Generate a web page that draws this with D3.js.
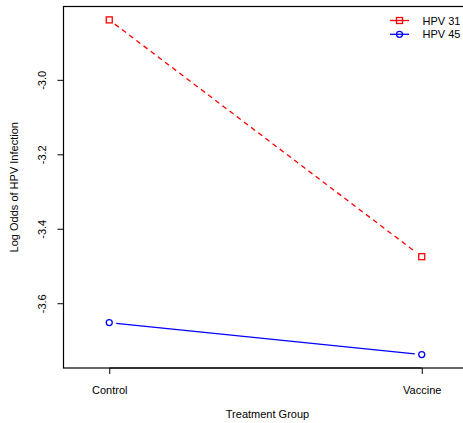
<!DOCTYPE html>
<html>
<head>
<meta charset="utf-8">
<script src="https://cdn.jsdelivr.net/npm/d3@7"></script>
<style>
  body { margin: 0; background: #fff; }
  text { font-family: "Liberation Sans", Arial, sans-serif; font-size: 11px; fill: #000; }
</style>
</head>
<body>
<div id="chart"></div>
<script>
// data
var groups = ["Control", "Vaccine"];
var hpv31 = [-2.839, -3.475];
var hpv45 = [-3.652, -3.738];
var seriesNames = ["HPV 31", "HPV 45"];
var yTicks = [-3.6, -3.4, -3.2, -3.0];

var width = 463, height = 423;
var plot = { left: 63, top: 6.5, right: 468, bottom: 368 };

var svg = d3.select("#chart")
    .append("svg")
    .attr("width", width)
    .attr("height", height);

// x: positions 1,2 with xlim 0.9..2.1 plus R's 4% padding
var x = d3.scaleLinear()
    .domain([0.852, 2.148])
    .range([plot.left, plot.right]);

var allVals = hpv31.concat(hpv45);
var yMin = d3.min(allVals), yMax = d3.max(allVals);
var pad = (yMax - yMin) * 0.04;
var y = d3.scaleLinear()
    .domain([yMin - pad, yMax + pad])
    .range([plot.bottom, plot.top]);

// box
svg.append("rect")
    .attr("x", plot.left + 0.5)
    .attr("y", plot.top)
    .attr("width", plot.right - plot.left)
    .attr("height", plot.bottom - plot.top)
    .style("fill", "none")
    .style("stroke", "#000")
    .style("stroke-width", 1.2);

// y axis (plain hyphen minus like R)
var yAxis = d3.axisLeft(y)
    .tickValues(yTicks)
    .tickSize(6)
    .tickFormat(function(d) { return d.toFixed(1); });
var yg = svg.append("g")
    .attr("transform", "translate(" + (plot.left + 0.5) + ",0)")
    .call(yAxis);
yg.select(".domain")
    .attr("d", "M0," + y(yTicks[0]) + "V" + y(yTicks[yTicks.length - 1]));
yg.selectAll("line").style("stroke", "#000");
yg.selectAll("text")
    .attr("x", 0)
    .attr("y", 0)
    .attr("dy", null)
    .style("font-size", "11px")
    .style("font-family", "Liberation Sans, Arial, sans-serif")
    .attr("text-anchor", "middle")
    .attr("transform", "translate(-18,0) rotate(-90)");

// x axis
var xAxis = d3.axisBottom(x)
    .tickValues([1, 2])
    .tickSize(6)
    .tickFormat(function(d) { return groups[d - 1]; });
var xg = svg.append("g")
    .attr("transform", "translate(0," + plot.bottom + ")")
    .call(xAxis);
xg.select(".domain").attr("d", "M" + x(1) + ",0H" + x(2));
xg.selectAll("text")
    .attr("y", 18)
    .style("font-size", "11px")
    .style("font-family", "Liberation Sans, Arial, sans-serif");

// axis titles
svg.append("text")
    .attr("x", (plot.left + plot.right) / 2 + 2)
    .attr("y", 418)
    .attr("text-anchor", "middle")
    .text("Treatment Group");

svg.append("text")
    .attr("transform", "translate(18," + ((plot.top + plot.bottom) / 2) + ") rotate(-90)")
    .attr("text-anchor", "middle")
    .text("Log Odds of HPV Infection");

// type="b" style lines: segments with gaps around points
function drawSeries(vals, color, dash, shape) {
    var pts = vals.map(function(v, i) { return [x(i + 1), y(v)]; });
    var gap = 7;
    for (var i = 0; i < pts.length - 1; i++) {
        var a = pts[i], b = pts[i + 1];
        var dx = b[0] - a[0], dy = b[1] - a[1];
        var len = Math.sqrt(dx * dx + dy * dy);
        var ux = dx / len, uy = dy / len;
        svg.append("line")
            .attr("x1", a[0] + ux * gap)
            .attr("y1", a[1] + uy * gap)
            .attr("x2", b[0] - ux * gap)
            .attr("y2", b[1] - uy * gap)
            .style("stroke", color)
            .style("stroke-width", 1.3)
            .style("stroke-dasharray", dash);
    }
    drawMarkers(pts, color, shape);
}

function drawMarkers(pts, color, shape) {
    pts.forEach(function(p) {
        if (shape == "square") {
            svg.append("rect")
                .attr("x", p[0] - 3)
                .attr("y", p[1] - 3)
                .attr("width", 6)
                .attr("height", 6)
                .style("fill", "none")
                .style("stroke", color)
                .style("stroke-width", 1.3);
        } else {
            svg.append("circle")
                .attr("cx", p[0])
                .attr("cy", p[1])
                .attr("r", 3)
                .style("fill", "none")
                .style("stroke", color)
                .style("stroke-width", 1.3);
        }
    });
}

drawSeries(hpv31, "#ff0000", "5,4", "square");
drawSeries(hpv45, "#0000ff", null, "circle");

// legend
var legend = [
    { name: seriesNames[0], color: "#ff0000", shape: "square", dash: "5,4" },
    { name: seriesNames[1], color: "#0000ff", shape: "circle", dash: null }
];
legend.forEach(function(d, i) {
    var ly = 20.5 + i * 13.8;
    svg.append("line")
        .attr("x1", 390).attr("x2", 409)
        .attr("y1", ly).attr("y2", ly)
        .style("stroke", d.color)
        .style("stroke-width", 1.3);
    drawMarkers([[399.5, ly]], d.color, d.shape);
    svg.append("text")
        .attr("x", 422.5)
        .attr("y", ly + 4)
        .text(d.name);
});
</script>
</body>
</html>
